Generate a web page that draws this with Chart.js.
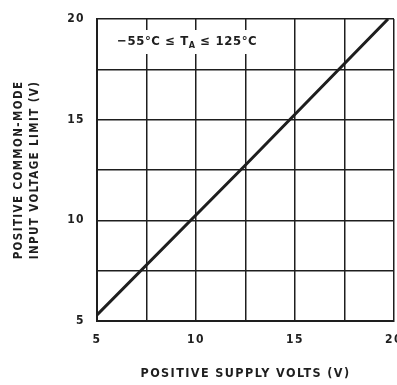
<!DOCTYPE html>
<html>
<head>
<meta charset="utf-8">
<script src="https://cdn.jsdelivr.net/npm/chart.js@4"></script>
<style>
  html, body { margin: 0; padding: 0; background: #fff; }
  #wrap { width: 397px; height: 385px; }
</style>
</head>
<body>
<div id="wrap"><canvas id="myChart" width="397" height="385"></canvas></div>
<script>
// data
const supplyVolts = [5, 12.4, 19.7];
const cmLimit = [5.3, 12.65, 20];
const xTickLabels = [5, 10, 15, 20];
const yTickLabels = [5, 10, 15, 20];
const note = ['\u221255\u00b0C \u2264 T', 'A', ' \u2264 125\u00b0C'];

const FONT = '"DejaVu Sans Condensed", "DejaVu Sans", sans-serif';
const INK = '#1e1e1e';

// slightly spaced lettering like the printed sheet
const spacingPlugin = {
  id: 'spacing',
  beforeDraw(chart) { chart.ctx.letterSpacing = '1.4px'; }
};

// white box with the temperature range, drawn over the grid
const notePlugin = {
  id: 'note',
  afterDatasetsDraw(chart) {
    const ctx = chart.ctx;
    const x0 = 110, y0 = 30, w = 158, h = 24;
    ctx.save();
    ctx.letterSpacing = '0.6px';
    ctx.fillStyle = '#fff';
    ctx.fillRect(x0, y0, w, h);
    ctx.fillStyle = INK;
    ctx.textBaseline = 'middle';
    ctx.font = 'bold 13px ' + FONT;
    let x = x0 + 7;
    const y = y0 + h / 2;
    ctx.fillText(note[0], x, y);
    x += ctx.measureText(note[0]).width;
    ctx.font = 'bold 9px ' + FONT;
    ctx.fillText(note[1], x, y + 4);
    x += ctx.measureText(note[1]).width;
    ctx.font = 'bold 13px ' + FONT;
    ctx.fillText(note[2], x, y);
    ctx.restore();
  }
};

const data = {
  datasets: [{
    data: supplyVolts.map((v, i) => ({ x: v, y: cmLimit[i] })),
    borderColor: INK,
    borderWidth: 3,
    pointRadius: 0,
    tension: 0,
    fill: false
  }]
};

const config = {
  type: 'line',
  data,
  options: {
    responsive: false,
    animation: false,
    layout: { padding: { top: 19, right: 3, left: 0, bottom: 0 } },
    plugins: { legend: { display: false }, tooltip: { enabled: false } },
    scales: {
      x: {
        type: 'linear',
        min: 5, max: 20,
        afterFit(scale) { scale.height = 64; scale.paddingRight = 0; scale.paddingLeft = 0; },
        grid: { color: INK, lineWidth: 1.5, drawTicks: false },
        border: { color: INK, width: 2 },
        ticks: {
          stepSize: 2.5,
          padding: 12,
          color: INK,
          maxRotation: 0,
          autoSkip: false,
          font: { family: FONT, size: 12, weight: 'bold' },
          callback: (v) => xTickLabels.includes(v) ? String(v) : ''
        },
        title: {
          display: true,
          text: 'POSITIVE SUPPLY VOLTS (V)',
          color: INK,
          font: { family: FONT, size: 12.5, weight: 'bold' },
          padding: { top: 12 }
        }
      },
      y: {
        type: 'linear',
        min: 5, max: 20,
        afterFit(scale) { scale.width = 97; scale.paddingTop = 0; scale.paddingBottom = 0; },
        grid: { color: INK, lineWidth: 1.5, drawTicks: false },
        border: { color: INK, width: 2 },
        ticks: {
          stepSize: 2.5,
          padding: 12,
          color: INK,
          autoSkip: false,
          font: { family: FONT, size: 12, weight: 'bold' },
          callback: (v) => yTickLabels.includes(v) ? String(v) : ''
        },
        title: {
          display: true,
          text: ['POSITIVE COMMON-MODE', 'INPUT VOLTAGE LIMIT (V)'],
          color: INK,
          font: { family: FONT, size: 11.5, weight: 'bold', lineHeight: 1.4 },
          padding: { top: 11, bottom: 0 }
        }
      }
    }
  },
  plugins: [spacingPlugin, notePlugin]
};

var myChart = new Chart(document.getElementById('myChart'), config);
</script>
</body>
</html>
